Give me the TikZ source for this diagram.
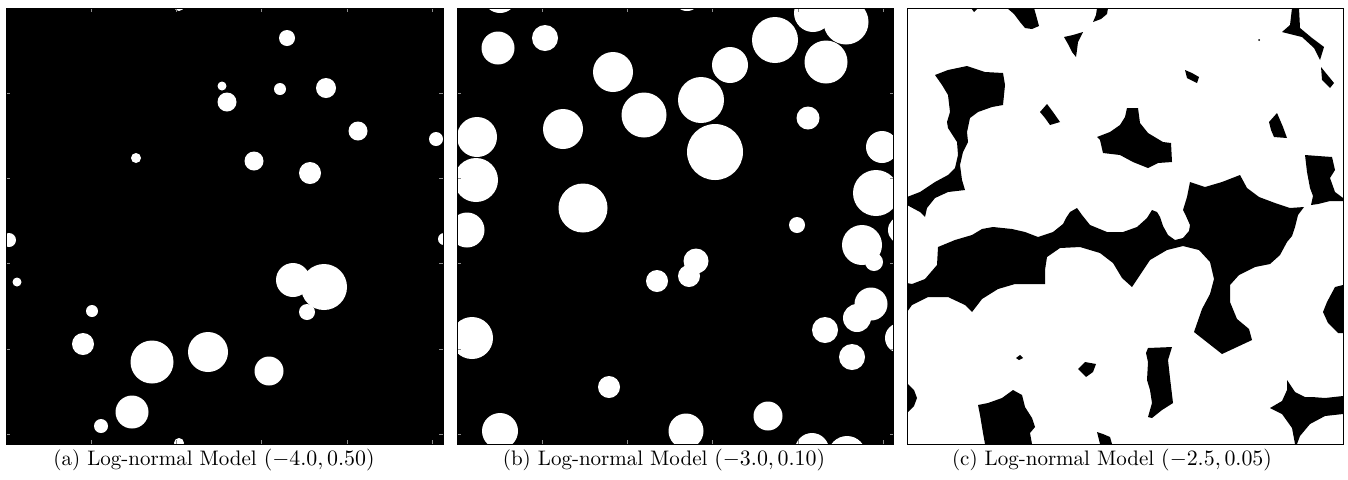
\documentclass[tikz,border=0pt]{standalone}
\usepackage{amsmath}
\usepackage{xcolor}
\usepackage{tikz}
\usetikzlibrary{calc}
\definecolor{tickgray}{HTML}{8C8C8C}

% ticks on the four sides of a panel: #1 left, #2 top
\newcommand{\panelticks}[2]{%
  \foreach \t in {50,100,150,200,250}{
    \pgfmathsetmacro{\tpos}{\t*1.70508}
    \draw[tickmark] (#1+\tpos,#2) -- ++(0,4);
    \draw[tickmark] (#1+\tpos,#2+436) -- ++(0,-4);
    \draw[tickmark] (#1,#2+\tpos) -- ++(4,0);
    \draw[tickmark] (#1+436.5,#2+\tpos) -- ++(-4,0);
  }}

\begin{document}
\begin{tikzpicture}[
  x=0.5pt, y=-0.5pt,
  every node/.style={font=\fontsize{10.5}{12.6}\selectfont},
  frame/.style={draw=black, line width=0.5pt},
  grain/.style={fill=white},
  pore/.style={fill=black},
  tickmark/.style={line width=0.5pt, color=tickgray},
  captext/.style={anchor=base, inner sep=0pt}
]
\useasboundingbox (0,0) rectangle (1348,479);
\fill[white] (0,0) rectangle (1348,479);

% Panel (a)
\begin{scope}
  \clip (6,8) rectangle (443,444);
  \fill[black] (6,8) rectangle (443,444);
  \foreach \x/\y/\r in {179/6/5, 287/38/8, 222/86/4.5, 280/89/6, 326/88/10,
      227/102/9.5, 358/131/9.5, 436/139/7, 136/158/5, 254/161/9.5,
      310/173/11, 9/240/7, 444/239/6, 17/282/4.5, 293/280/17, 324/287/23,
      307/312/8, 92/311/6, 83/344/11, 152/362/21.5, 208/352/20,
      269/371/14.5, 132/412/16.5, 101/426/7, 179/443/5}
    \fill[grain] (\x,\y) circle[radius=\r];
\end{scope}
\panelticks{6}{8}
\draw[frame] (6,8) rectangle (443,444);

% Panel (b)
\begin{scope}
  \clip (457,8) rectangle (893,444);
  \fill[black] (457,8) rectangle (893,444);
  \foreach \x/\y/\r in {500/-4/17, 687/-3/14, 498/48/16.5, 545/38/13,
      613/72/20, 730/65/18, 775/40/23, 813/13/19, 846/22/22.5, 826/62/21.5,
      644/115/22.5, 701/100/23, 715/152/28, 808/118/11.5, 563/129/20,
      477/137/20, 476/180/22, 583/208/24.5, 882/147/16, 876/193/23,
      797/225/8, 467/230/17.5, 862/245/20, 874/262/9, 902/230/14,
      696/261/12.5, 689/276/11, 657/281/11, 871/304/16.5, 857/318/14,
      900/338/15, 825/330/13, 852/357/13, 472/338/21, 609/387/11,
      768/416/14.5, 500/431/18, 686/431/17.5, 812/450/17, 847/455/19}
    \fill[grain] (\x,\y) circle[radius=\r];
\end{scope}
\panelticks{457}{8}
\draw[frame] (457,8) rectangle (893,444);

% Panel (c): white field, black pores
\begin{scope}
  \clip (907,8) rectangle (1343,444);
  \fill[white] (907,8) rectangle (1343,444);
  % upper pores
  \fill[pore] (1007,8) -- (1034,8) -- (1036,15) -- (1039,26) -- (1032,29)
    -- (1025,28) -- (1020,22) -- (1014,14) -- cycle;
  \fill[pore] (971,8) -- (978,8) -- (974,12) -- cycle;
  \fill[pore] (1097,8) -- (1108,8) -- (1107,14) -- (1101,19) -- (1093,22)
    -- (1096,15) -- cycle;
  \fill[pore] (1064,37) -- (1073,35) -- (1083,32) -- (1078,42) -- (1077,50)
    -- (1076,57) -- (1072,52) -- (1068,44) -- cycle;
  \fill[pore] (935,75) -- (948,70) -- (967,66) -- (985,72) -- (1003,73)
    -- (1005,85) -- (1003,105) -- (992,107) -- (978,112) -- (970,118)
    -- (967,132) -- (968,142) -- (963,152) -- (960,165) -- (962,180)
    -- (965,190) -- (948,192) -- (935,198) -- (927,208) -- (925,217)
    -- (920,212) -- (907,205) -- (907,197) -- (920,192) -- (935,182)
    -- (948,175) -- (955,168) -- (958,155) -- (957,142) -- (948,128)
    -- (947,122) -- (950,112) -- (948,95) -- (942,85) -- cycle;
  \fill[pore] (1040,112) -- (1047,104) -- (1053,112) -- (1060,122)
    -- (1050,125) -- (1045,118) -- cycle;
  \fill[pore] (1127,108) -- (1138,108) -- (1140,123) -- (1148,133)
    -- (1163,142) -- (1171,143) -- (1172,162) -- (1158,163) -- (1148,168)
    -- (1133,162) -- (1120,155) -- (1103,153) -- (1100,140) -- (1097,137)
    -- (1110,132) -- (1120,125) -- (1125,117) -- cycle;
  \fill[pore] (1292,8) -- (1299,8) -- (1300,28) -- (1312,38) -- (1324,47)
    -- (1320,60) -- (1314,48) -- (1302,37) -- (1282,32) -- (1290,25) -- cycle;
  \fill[pore] (1321,67) -- (1325,72) -- (1334,83) -- (1330,88) -- (1322,80) -- cycle;
  \fill[pore] (1185,70) -- (1192,73) -- (1199,77) -- (1197,83) -- (1187,78) -- cycle;
  \fill[pore] (1269,122) -- (1277,113) -- (1280,120) -- (1283,127) -- (1287,138)
    -- (1274,137) -- (1271,130) -- cycle;
  \fill[pore] (1259,40) circle[radius=1];
  \fill[pore] (1305,155) -- (1318,156) -- (1332,157) -- (1335,170) -- (1330,178)
    -- (1335,192) -- (1343,198) -- (1343,201) -- (1330,201) -- (1318,204)
    -- (1311,205) -- (1313,196) -- (1310,188) -- (1307,172) -- cycle;
  % the large connected pore
  \fill[pore] (907,283) -- (912,284) -- (925,279) -- (937,265) -- (938,247)
    -- (955,240) -- (972,235) -- (982,229) -- (993,227) -- (1012,229)
    -- (1025,232) -- (1038,237) -- (1053,232) -- (1063,224) -- (1066,218)
    -- (1070,212) -- (1077,208) -- (1082,215) -- (1090,225) -- (1107,232)
    -- (1123,232) -- (1137,227) -- (1147,218) -- (1152,210) -- (1157,212)
    -- (1160,217) -- (1163,226) -- (1168,235) -- (1175,240) -- (1183,238)
    -- (1189,231) -- (1190,225) -- (1186,216) -- (1183,210) -- (1187,197)
    -- (1190,182) -- (1205,187) -- (1222,182) -- (1240,175) -- (1247,188)
    -- (1259,197) -- (1275,203) -- (1290,208) -- (1304,207) -- (1298,215)
    -- (1295,227) -- (1292,236) -- (1287,242) -- (1280,255) -- (1270,264)
    -- (1255,267) -- (1239,275) -- (1230,285) -- (1230,302) -- (1237,319)
    -- (1249,329) -- (1252,340) -- (1222,354) -- (1194,332) -- (1202,309)
    -- (1210,294) -- (1214,279) -- (1210,262) -- (1199,250) -- (1183,246)
    -- (1167,250) -- (1150,260) -- (1140,275) -- (1132,287) -- (1122,278)
    -- (1113,263) -- (1100,253) -- (1080,247) -- (1060,248) -- (1047,257)
    -- (1045,270) -- (1045,284) -- (1035,284) -- (1015,284) -- (998,289)
    -- (982,299) -- (972,312) -- (965,305) -- (948,297) -- (928,297)
    -- (912,305) -- (907,312) -- cycle;
  % lower pores
  \fill[pore] (1335,287) -- (1343,285) -- (1343,333) -- (1338,333) -- (1328,323)
    -- (1323,312) -- (1327,302) -- cycle;
  \fill[pore] (1287,380) -- (1295,392) -- (1305,397) -- (1312,397) -- (1325,398)
    -- (1343,396) -- (1343,414) -- (1325,416) -- (1310,424) -- (1300,436)
    -- (1297,444) -- (1295,444) -- (1292,428) -- (1282,414) -- (1270,408)
    -- (1282,401) -- (1287,390) -- cycle;
  \fill[pore] (1148,348) -- (1172,347) -- (1168,360) -- (1170,378) -- (1173,403)
    -- (1162,410) -- (1152,418) -- (1148,417) -- (1152,403) -- (1150,390)
    -- (1147,380) -- (1148,362) -- (1146,353) -- cycle;
  \fill[pore] (1078,369) -- (1085,362) -- (1096,364) -- (1093,372) -- (1086,377) -- cycle;
  \fill[pore] (1016,358) -- (1020,355) -- (1023,358) -- (1019,360) -- cycle;
  \fill[pore] (907,383) -- (914,390) -- (917,398) -- (914,406) -- (907,413) -- cycle;
  \fill[pore] (1013,390) -- (1022,395) -- (1025,407) -- (1032,418) -- (1035,427)
    -- (1030,433) -- (1032,444) -- (985,444) -- (983,433) -- (980,415)
    -- (978,405) -- (988,403) -- (1002,398) -- cycle;
  \fill[pore] (1097,432) -- (1103,434) -- (1110,437) -- (1112,444) -- (1100,444) -- cycle;
\end{scope}
\draw[frame] (907,8) rectangle (1343,444);

% Captions
\node[captext] (capa) at (214,465) {(a) Log-normal Model $(-4.0, 0.50)$};
\node[captext] (capb) at (664,465) {(b) Log-normal Model $(-3.0, 0.10)$};
\node[captext] (capc) at (1112,465) {(c) Log-normal Model $(-2.5, 0.05)$};
\end{tikzpicture}
\end{document}
